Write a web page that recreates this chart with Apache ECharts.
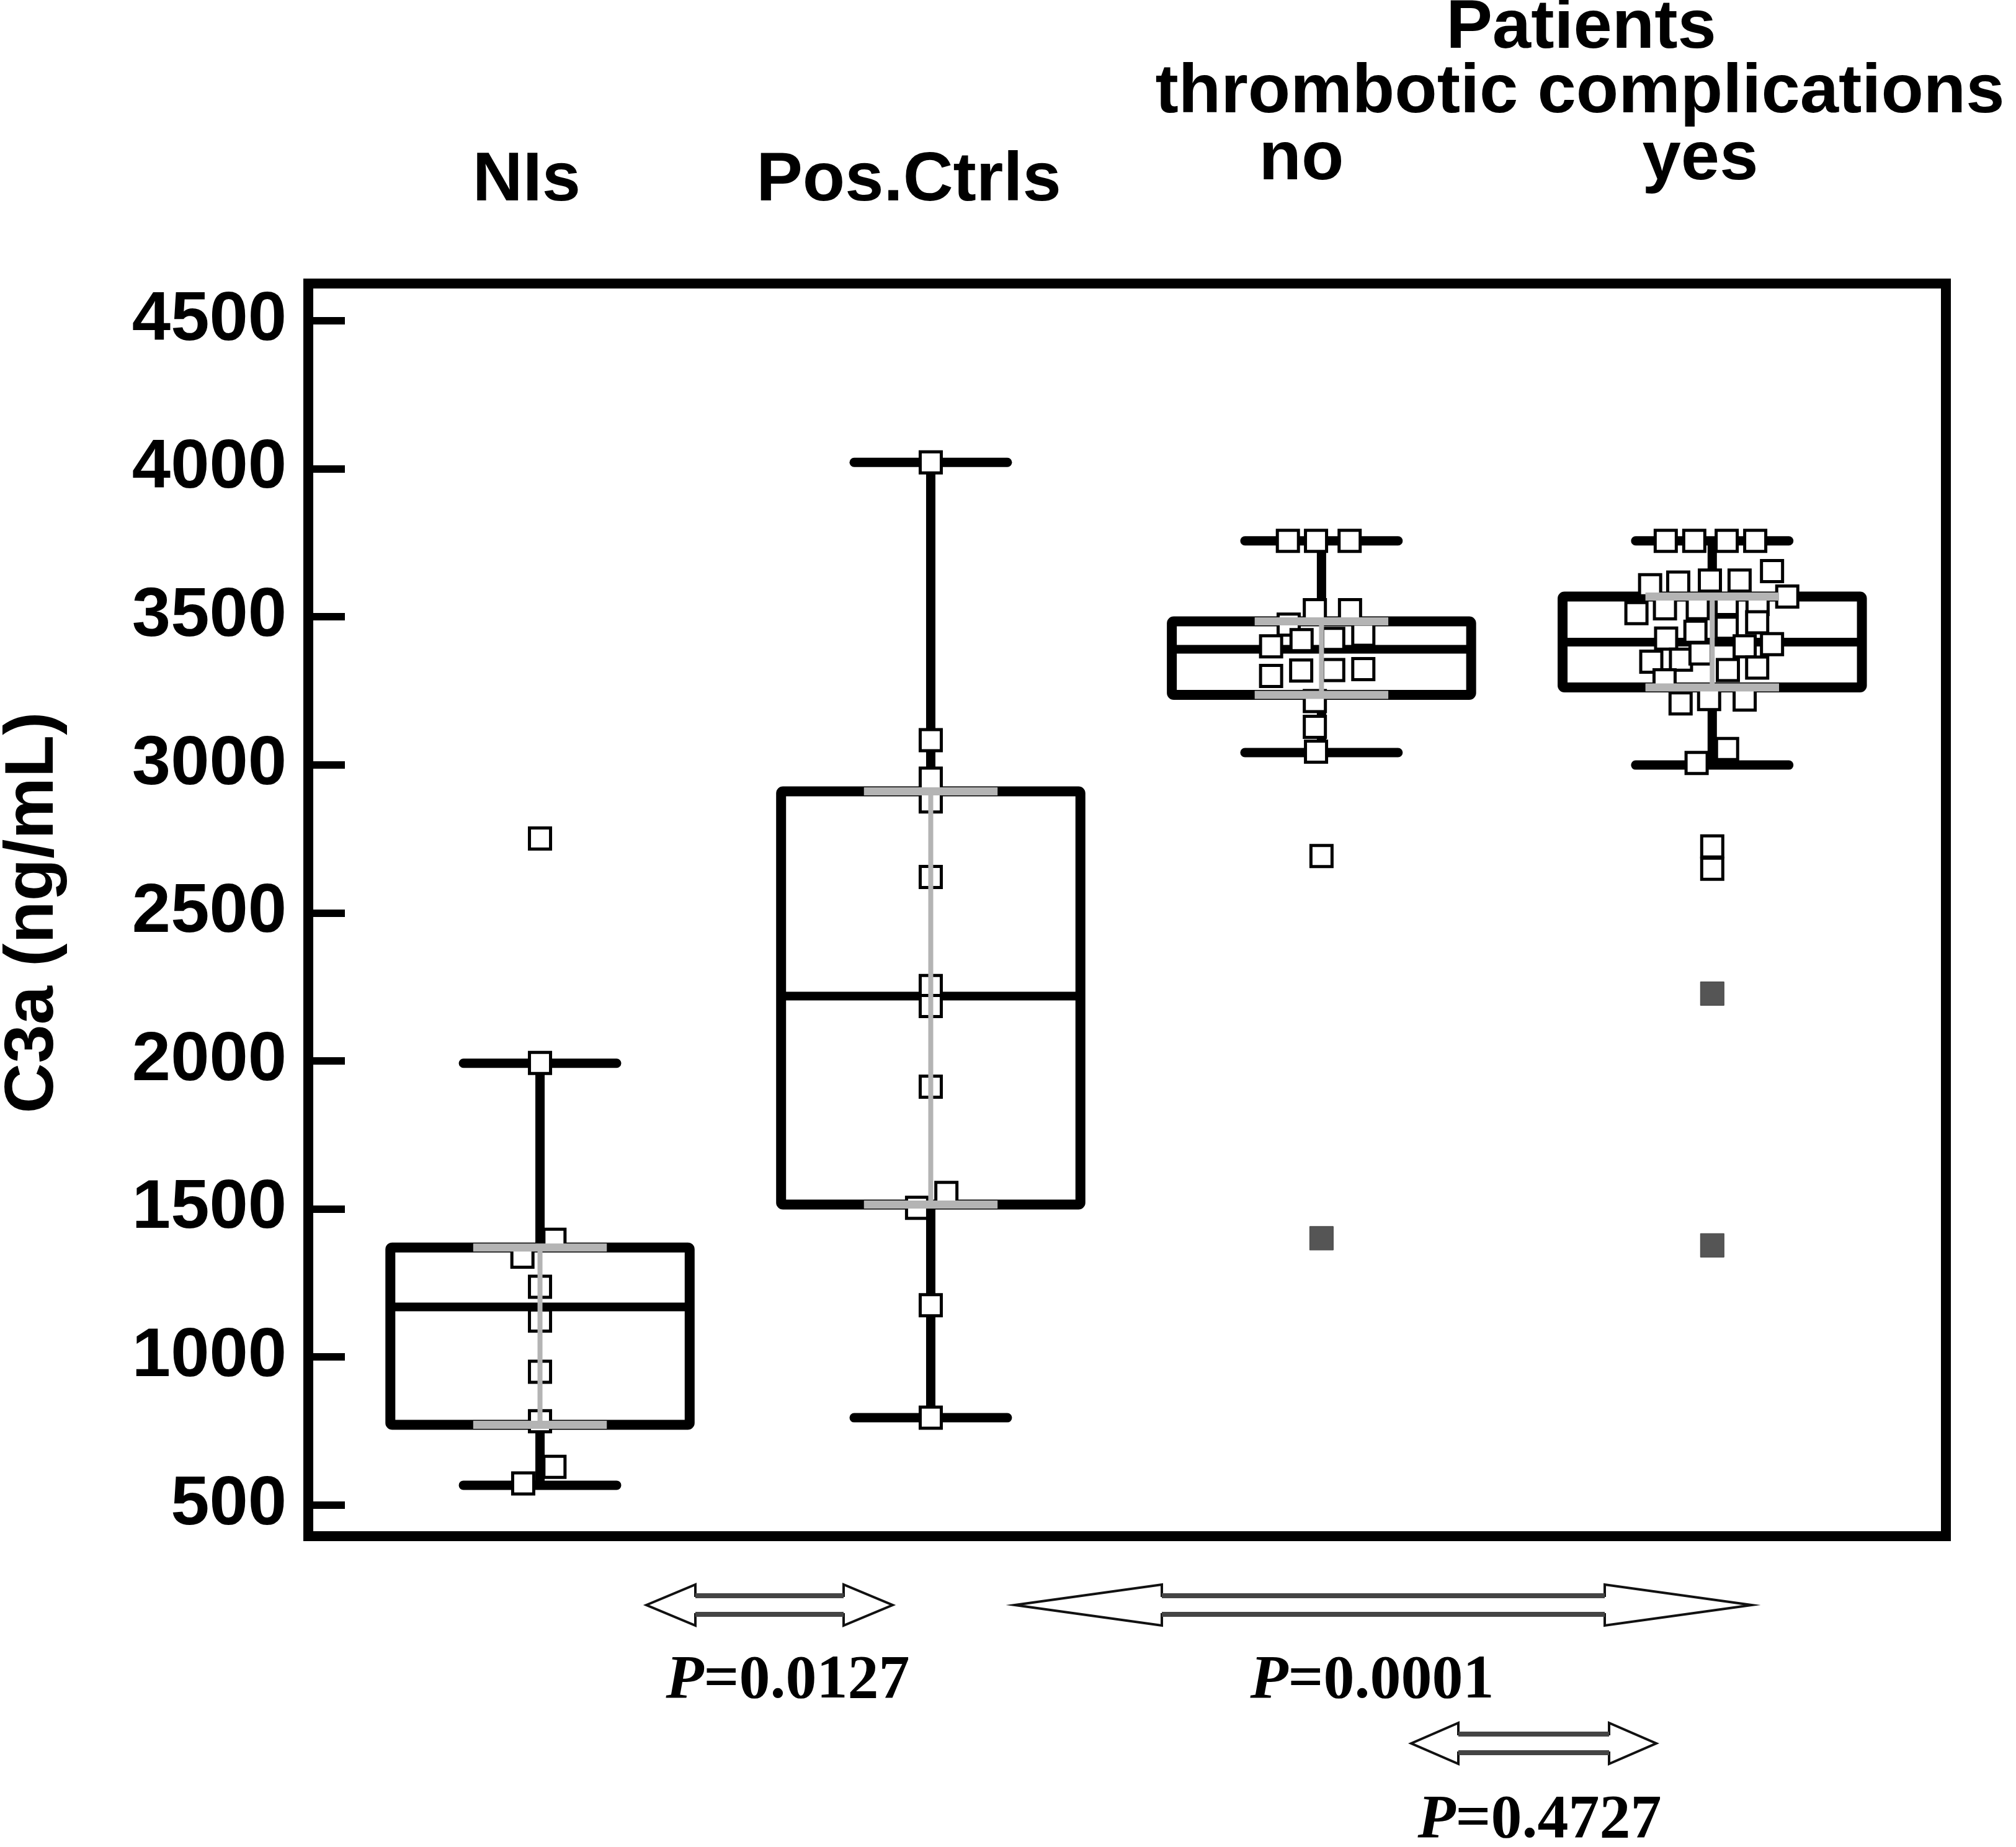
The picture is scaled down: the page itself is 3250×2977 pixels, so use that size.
<!DOCTYPE html>
<html><head><meta charset="utf-8">
<script src="https://cdn.jsdelivr.net/npm/echarts@6/dist/echarts.min.js"></script>
<style>html,body{margin:0;padding:0;background:#fff}#c{width:3250px;height:2977px}</style>
</head><body><div id="c"></div>
<script>
// ---------- data ----------
const categories  = ['NIs', 'Pos.Ctrls', 'no', 'yes'];
const whiskerLow  = [567, 795, 3041, 2999];
const q1          = [771, 1515, 3236, 3261];
const median      = [1169, 2219, 3390, 3414];
const q3          = [1370, 2910, 3484, 3568];
const whiskerHigh = [1992, 4021, 3756, 3756];
const yTicks      = [500, 1000, 1500, 2000, 2500, 3000, 3500, 4000, 4500];

// individual values (open squares) and horizontal jitter (category units)
const nlsValues = [1993, 1396, 1339, 1237, 1123, 950, 783, 629, 573, 2751];
const nlsJitter = [0, 0.037, -0.045, 0, 0, 0, 0, 0.037, -0.043, 0];
const posValues = [4021, 3083, 2953, 2876, 2621, 2253, 2185, 1913, 1554, 1504, 1175, 795];
const posJitter = [0, 0, 0, 0, 0, 0, 0, 0, 0.04, -0.035, 0, 0];
const noValues  = [3756, 3756, 3756, 3522, 3522, 3473, 3400, 3421, 3425, 3439,
                   3300, 3318, 3320, 3323, 3215, 3128, 3044, 2692];
const noJitter  = [-0.086, -0.014, 0.072, -0.017, 0.073, -0.084, -0.129, -0.051, 0.030, 0.107,
                   -0.129, -0.052, 0.030, 0.107, -0.017, -0.017, -0.014, 0];
const yesValues = [3756, 3756, 3756, 3756, 3606, 3615, 3622, 3622, 3654, 3568,
                   3512, 3528, 3529, 3543, 3543, 3449, 3463, 3481, 3426, 3400,
                   3407, 3348, 3355, 3376, 3320, 3328, 3285, 3207, 3222, 3220,
                   3053, 3006, 2724, 2649];
const yesJitter = [-0.119, -0.046, 0.037, 0.110, -0.159, -0.087, -0.006, 0.070, 0.153, 0.192,
                   -0.194, -0.121, -0.037, 0.037, 0.116, -0.043, 0.037, 0.115, -0.118, 0.083,
                   0.153, -0.156, -0.080, -0.030, 0.040, 0.115, -0.122, -0.081, -0.008, 0.083,
                   0.038, -0.040, 0, 0];
// filled (dark) squares
const noFilled  = [1401];
const yesFilled = [2227, 1377];
const pValues   = ['0.0127', '0.0001', '0.4727'];

// ---------- build ----------
const boxData = categories.map((c, i) => [i + 1, whiskerLow[i], q1[i], median[i], q3[i], whiskerHigh[i]]);
const groups = [[nlsValues, nlsJitter], [posValues, posJitter], [noValues, noJitter], [yesValues, yesJitter]];
const openPts = [];
groups.forEach((g, i) => g[0].forEach((v, k) => openPts.push([i + 1 + g[1][k], v])));
const filledPts = noFilled.map(v => [3, v]).concat(yesFilled.map(v => [4, v]));

function renderBox(params, api) {
  const x = api.value(0);
  const lo = api.coord([x, api.value(1)]);
  const b1 = api.coord([x, api.value(2)]);
  const md = api.coord([x, api.value(3)]);
  const b3 = api.coord([x, api.value(4)]);
  const hi = api.coord([x, api.value(5)]);
  const unit = api.size([1, 0])[0];
  const bw = unit * 0.383, cw = unit * 0.196;
  const cx = lo[0];
  const s = { stroke: '#000', lineWidth: 15, lineCap: 'round' };
  return { type: 'group', children: [
    { type: 'line', shape: { x1: cx, y1: hi[1], x2: cx, y2: b3[1] }, style: { stroke: '#000', lineWidth: 15 } },
    { type: 'line', shape: { x1: cx, y1: b1[1], x2: cx, y2: lo[1] }, style: { stroke: '#000', lineWidth: 15 } },
    { type: 'line', shape: { x1: cx - cw, y1: hi[1], x2: cx + cw, y2: hi[1] }, style: s },
    { type: 'line', shape: { x1: cx - cw, y1: lo[1], x2: cx + cw, y2: lo[1] }, style: s },
    { type: 'rect', shape: { x: cx - bw, y: b3[1], width: 2 * bw, height: b1[1] - b3[1], r: 3 },
      style: { fill: 'none', stroke: '#000', lineWidth: 16, lineJoin: 'round' } },
    { type: 'line', shape: { x1: cx - bw, y1: md[1], x2: cx + bw, y2: md[1] }, style: { stroke: '#000', lineWidth: 14 } }
  ]};
}
function renderGray(params, api) {
  const x = api.value(0);
  const b1 = api.coord([x, api.value(2)]);
  const b3 = api.coord([x, api.value(4)]);
  const unit = api.size([1, 0])[0];
  const gw = unit * 0.171;
  const cx = b1[0];
  const g = { stroke: '#b4b4b4', lineWidth: 13 };
  return { type: 'group', children: [
    { type: 'line', shape: { x1: cx - gw, y1: b3[1], x2: cx + gw, y2: b3[1] }, style: g },
    { type: 'line', shape: { x1: cx - gw, y1: b1[1], x2: cx + gw, y2: b1[1] }, style: g },
    { type: 'line', shape: { x1: cx, y1: b3[1], x2: cx, y2: b1[1] }, style: { stroke: '#b4b4b4', lineWidth: 8 } }
  ]};
}

function arrowPts(x1, x2, cy, L, H, h) {
  return [[x1, cy], [x1 + L, cy - H], [x1 + L, cy - h], [x2 - L, cy - h], [x2 - L, cy - H], [x2, cy],
          [x2 - L, cy + H], [x2 - L, cy + h], [x1 + L, cy + h], [x1 + L, cy + H]];
}
function arrow(x1, x2, cy, L) {
  const H = 33, h = 15;
  return [
    { type: 'polygon', shape: { points: arrowPts(x1, x2, cy, L, H, h) }, style: { fill: '#fff', stroke: '#111', lineWidth: 4 } },
    { type: 'line', shape: { x1: x1 + L, y1: cy - h, x2: x2 - L, y2: cy - h }, style: { stroke: '#444', lineWidth: 8 } },
    { type: 'line', shape: { x1: x1 + L, y1: cy + h, x2: x2 - L, y2: cy + h }, style: { stroke: '#444', lineWidth: 8 } }
  ];
}
const SANS = '"Liberation Sans", Arial, Helvetica, sans-serif';
const SERIF = '"Liberation Serif", "Times New Roman", serif';
function label(text, x, y, rot) {
  return { type: 'text', x: x, y: y, rotation: rot || 0,
    style: { text: text, fill: '#000', font: 'bold 112px ' + SANS, align: 'center', verticalAlign: 'middle' } };
}
function pText(v, x, y) {
  return { type: 'text', x: x, y: y,
    style: { text: '{i|P}{n|=' + v + '}', align: 'center', verticalAlign: 'middle', fill: '#000',
      rich: { i: { fontFamily: SERIF, fontStyle: 'italic', fontWeight: 'bold', fontSize: 100, fill: '#000' },
              n: { fontFamily: SERIF, fontWeight: 'bold', fontSize: 100, fill: '#000' } } } };
}

const chart = echarts.init(document.getElementById('c'), null, { renderer: 'canvas' });
chart.setOption({
  backgroundColor: '#fff',
  animation: false,
  grid: { left: 497, right: 113, top: 457, bottom: 501, show: true, borderColor: '#000', borderWidth: 16, backgroundColor: 'transparent' },
  xAxis: { type: 'value', min: 0.407, max: 4.598, show: false },
  yAxis: {
    type: 'value', min: 395, max: 4625,
    axisLine: { show: false },
    splitLine: { show: false },
    axisTick: { show: true, inside: true, length: 59, customValues: yTicks, lineStyle: { color: '#000', width: 12 } },
    axisLabel: { customValues: yTicks, formatter: v => String(v), fontFamily: SANS, fontWeight: 'bold', fontSize: 112, color: '#000', margin: 35 }
  },
  series: [
    { type: 'custom', renderItem: renderBox, data: boxData, encode: { x: 0, y: [1, 2, 3, 4, 5] }, z: 1, clip: false },
    { type: 'scatter', data: openPts, symbol: 'rect', symbolSize: 34, z: 2,
      itemStyle: { color: '#fff', borderColor: '#000', borderWidth: 5, opacity: 1 } },
    { type: 'scatter', data: filledPts, symbol: 'rect', symbolSize: 38, z: 2,
      itemStyle: { color: '#555', borderColor: '#444', borderWidth: 1, opacity: 1 } },
    { type: 'custom', renderItem: renderGray, data: boxData, encode: { x: 0, y: [1, 2, 3, 4, 5] }, z: 3, clip: false }
  ],
  graphic: [].concat(
    [label('C3a (ng/mL)', 54, 1471, Math.PI / 2),
     label(categories[0], 849, 292),
     label(categories[1], 1465, 292),
     label(categories[2], 2098, 258),
     label(categories[3], 2741, 258),
     label('thrombotic complications', 2547, 150),
     label('Patients', 2549, 46)],
    arrow(1042, 1439, 2587, 79),
    arrow(1636, 2824, 2587, 237),
    arrow(2275, 2670, 2810, 76),
    [pText(pValues[0], 1270, 2710), pText(pValues[1], 2212, 2710), pText(pValues[2], 2482, 2935)]
  )
});
</script></body></html>
